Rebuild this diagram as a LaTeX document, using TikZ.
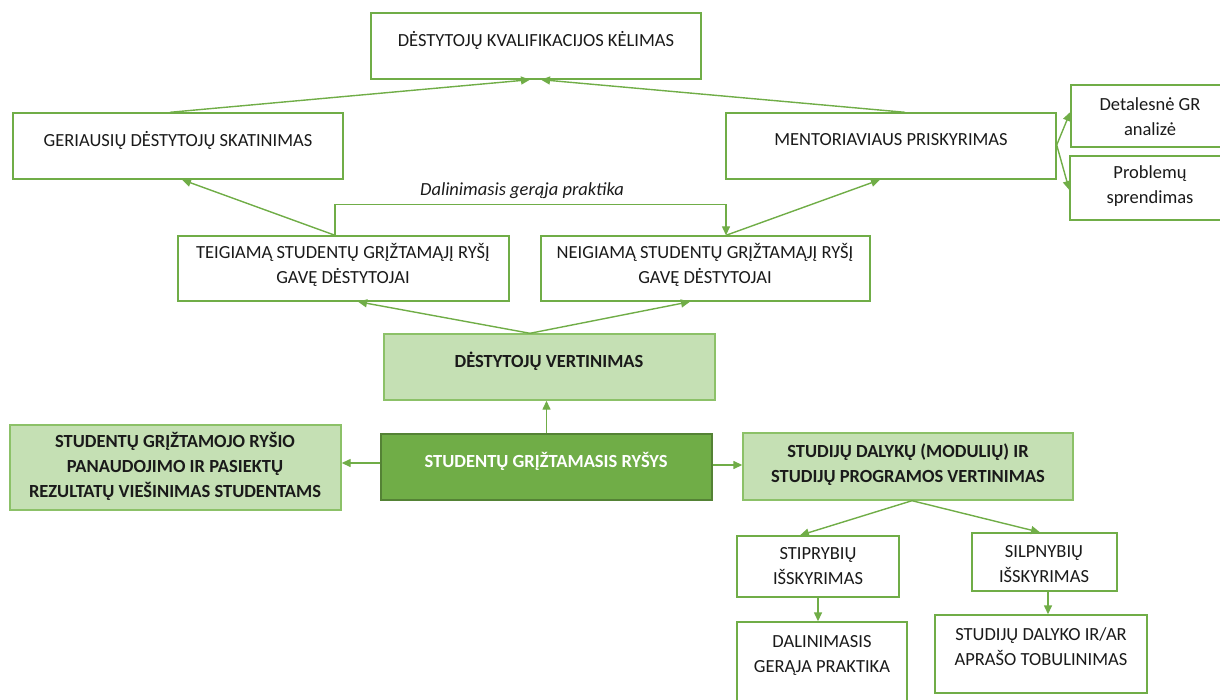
\documentclass[tikz,border=0pt]{standalone}
\usepackage{fontspec}
\setmainfont{Carlito}
\usetikzlibrary{arrows.meta}
\definecolor{ln}{HTML}{70AD47}
\definecolor{lightfill}{HTML}{C5E0B4}
\definecolor{lightedge}{HTML}{8CC168}
\definecolor{darkfill}{HTML}{70AD47}
\definecolor{darkedge}{HTML}{548235}
\definecolor{txt}{HTML}{1A1A1A}
\tikzset{
  box/.style={draw=ln, line width=1.4pt, fill=white, inner sep=0pt},
  lbox/.style={draw=lightedge, line width=1.4pt, fill=lightfill, inner sep=0pt},
  dbox/.style={draw=darkedge, line width=1.4pt, fill=darkfill, inner sep=0pt},
  lbl/.style={inner sep=0pt, align=center, text=txt, font=\fontsize{18.5}{25}\selectfont},
  blbl/.style={lbl, font=\fontsize{18.5}{25}\selectfont\bfseries},
  arr/.style={draw=ln, line width=1.4pt, -{Triangle[length=9pt,width=8pt]}},
  conn/.style={draw=ln, line width=1.4pt}
}
\newcommand{\boxat}[6]{%
  \node[#1, minimum width=#4-#2, minimum height=#5-#3] (#6) at ({(#2+#4)/2},{(#3+#5)/2}) {};}
\begin{document}
\begin{tikzpicture}[x=1pt,y=-1pt]
\useasboundingbox (0,0) rectangle (1220,700);
\clip (0,0) rectangle (1220,700);

% boxes
\boxat{box}{371}{13}{701}{79}{kval}
\boxat{box}{13}{113}{343}{179}{ger}
\boxat{box}{726}{113}{1056}{179}{ment}
\boxat{box}{1071}{85}{1232}{147}{det}
\boxat{box}{1070}{156}{1232}{220}{prob}
\boxat{box}{178}{236}{509}{301}{teig}
\boxat{box}{541}{236}{870}{301}{neig}
\boxat{lbox}{384}{334}{715}{400}{vert}
\boxat{dbox}{381}{434}{712}{500}{sgr}
\boxat{lbox}{10}{425}{341}{510}{viesin}
\boxat{lbox}{743}{433}{1073}{500}{modul}
\boxat{box}{737}{536}{899}{597}{stipr}
\boxat{box}{972}{533}{1117}{591}{silpn}
\boxat{box}{737}{622}{907}{712}{dalin}
\boxat{box}{935}{615}{1147}{693}{tobul}

% texts
\node[lbl] (kval-t) at (536,40) {DĖSTYTOJŲ KVALIFIKACIJOS KĖLIMAS};
\node[lbl] (ger-t) at (178,140) {GERIAUSIŲ DĖSTYTOJŲ SKATINIMAS};
\node[lbl] (ment-t) at (891,140) {MENTORIAVIAUS PRISKYRIMAS};
\node[lbl] (det-t) at (1150,117) {Detalesnė GR\\analizė};
\node[lbl] (prob-t) at (1150,186.5) {Problemų\\sprendimas};
\node[lbl] (teig-t) at (343,264.5) {TEIGIAMĄ STUDENTŲ GRĮŽTAMĄJĮ RYŠĮ\\GAVĘ DĖSTYTOJAI};
\node[lbl] (neig-t) at (705,264.5) {NEIGIAMĄ STUDENTŲ GRĮŽTAMĄJĮ RYŠĮ\\GAVĘ DĖSTYTOJAI};
\node[blbl] (vert-t) at (549,361) {DĖSTYTOJŲ VERTINIMAS};
\node[blbl, text=white] (sgr-t) at (546,461) {STUDENTŲ GRĮŽTAMASIS RYŠYS};
\node[blbl] (viesin-t) at (175,466) {STUDENTŲ GRĮŽTAMOJO RYŠIO\\PANAUDOJIMO IR PASIEKTŲ\\REZULTATŲ VIEŠINIMAS STUDENTAMS};
\node[blbl] (modul-t) at (908,464.5) {STUDIJŲ DALYKŲ (MODULIŲ) IR\\STUDIJŲ PROGRAMOS VERTINIMAS};
\node[lbl] (stipr-t) at (818,566.5) {STIPRYBIŲ\\IŠSKYRIMAS};
\node[lbl] (silpn-t) at (1044,564) {SILPNYBIŲ\\IŠSKYRIMAS};
\node[lbl] (dalin-t) at (822,655) {DALINIMASIS\\GERĄJA PRAKTIKA};
\node[lbl] (tobul-t) at (1041,647) {STUDIJŲ DALYKO IR/AR\\APRAŠO TOBULINIMAS};
\node[lbl, font=\fontsize{18.5}{25}\selectfont\itshape] (share-t) at (522,191) {Dalinimasis gerąja praktika};

% connectors
\draw[arr] ([xshift=-8pt]ger.north) -- ([xshift=-6pt]kval.south);
\draw[arr] ([xshift=14pt]ment.north) -- ([xshift=5pt]kval.south);
\draw[arr] ([xshift=-8.5pt]teig.north) -- ([xshift=4pt]ger.south);
\draw[arr] ([xshift=20.5pt]neig.north) -- ([xshift=-11pt]ment.south);
\draw[arr] ([xshift=-8.5pt]teig.north) -- ++(0,-31) -| ([xshift=20.5pt]neig.north);
\draw[arr] ([xshift=-19.5pt]vert.north) -- ([xshift=14.5pt]teig.south);
\draw[arr] ([xshift=-19.5pt]vert.north) -- ([xshift=-15.5pt]neig.south);
\draw[arr] (sgr.north) -- (sgr.north |- vert.south);
\draw[arr] ([yshift=4pt]sgr.west) -- ([yshift=4pt]sgr.west -| viesin.east);
\draw[arr] ([yshift=2pt]sgr.east) -- ([yshift=2pt]sgr.east -| modul.west);
\draw[arr] ([xshift=4pt]modul.south) -- ([xshift=-18pt]stipr.north);
\draw[arr] ([xshift=4pt]modul.south) -- ([xshift=-4.5pt]silpn.north);
\draw[arr] (stipr.south) -- (stipr.south |- dalin.north);
\draw[arr] ([xshift=3.5pt]silpn.south) -- ([xshift=3.5pt]silpn.south |- tobul.north);
\draw[arr] ([yshift=1pt]ment.east) -- ([yshift=4pt]det.west);
\draw[arr] ([yshift=1pt]ment.east) -- ([yshift=-2pt]prob.west);
\end{tikzpicture}
\end{document}
